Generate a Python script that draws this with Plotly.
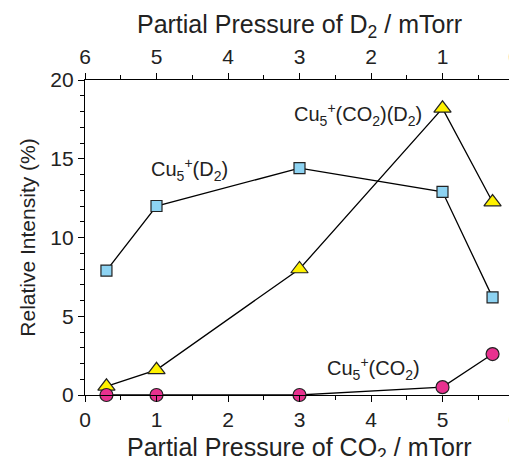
import plotly.graph_objects as go

co2_pressure = [0.3, 1, 3, 5, 5.7]
d2_pressure = [5.7, 5, 3, 1, 0.3]
cu5_d2 = [7.9, 12.0, 14.4, 12.9, 6.2]
cu5_co2_d2 = [0.55, 1.6, 8.0, 18.2, 12.25]
cu5_co2 = [0.0, 0.0, 0.0, 0.5, 2.6]

FONT = "Arial, Liberation Sans, sans-serif"
TXT = "#222"

fig = go.Figure()

fig.add_trace(go.Scatter(
    x=co2_pressure, y=cu5_d2, mode="lines+markers",
    line=dict(color="black", width=1.3),
    marker=dict(symbol="square", size=11, color="#8DD3F2", line=dict(color="#222", width=1.2)),
    cliponaxis=False, showlegend=False))
fig.add_trace(go.Scatter(
    x=co2_pressure, y=cu5_co2_d2, mode="lines+markers",
    line=dict(color="black", width=1.3),
    marker=dict(symbol="triangle-up", size=15, color="#FFF200", line=dict(color="#222", width=1.2)),
    cliponaxis=False, showlegend=False))
fig.add_trace(go.Scatter(
    x=co2_pressure, y=cu5_co2, mode="lines+markers",
    line=dict(color="black", width=1.3),
    marker=dict(symbol="circle", size=13, color="#E8318F", line=dict(color="#222", width=1.2)),
    cliponaxis=False, showlegend=False))
# invisible trace to anchor the top (D2) axis
fig.add_trace(go.Scatter(
    x=d2_pressure, y=cu5_d2, xaxis="x2", mode="markers",
    marker=dict(opacity=0), hoverinfo="skip", showlegend=False))

axis_common = dict(
    showgrid=False, zeroline=False, showline=True, linecolor="black", linewidth=1.3,
    ticks="outside", tickcolor="black", tickwidth=1.3, ticklen=6, automargin=False,
    tickfont=dict(family=FONT, size=21, color=TXT),
)
minor_x = dict(dtick=0.5, ticks="outside", ticklen=4, tickcolor="black", tickwidth=1.3)

fig.update_layout(
    width=509, height=449,
    margin=dict(l=77, r=3, t=72, b=62),
    plot_bgcolor="white", paper_bgcolor="white",
    xaxis=dict(range=[0, 6], dtick=1, tick0=0, minor=minor_x, ticklabeloverflow="allow",
               **axis_common),
    xaxis2=dict(range=[6, 0], dtick=1, tick0=0, overlaying="x", side="top", anchor="y",
                minor=minor_x, ticklabeloverflow="allow",
                title=dict(text="Partial Pressure of D<sub>2</sub> / mTorr",
                           font=dict(family=FONT, size=25, color=TXT), standoff=4),
                **axis_common),
    yaxis=dict(range=[0, 20], dtick=5, tick0=0, mirror=True,
               minor=dict(dtick=1, ticks="outside", ticklen=4, tickcolor="black", tickwidth=1.3),
               title=dict(text="Relative Intensity (%)",
                          font=dict(family=FONT, size=21, color=TXT), standoff=8),
               **axis_common),
    font=dict(family=FONT, color=TXT),
    annotations=[
        dict(x=0.5, y=0, xref="paper", yref="paper", yanchor="middle", yshift=-54,
             showarrow=False, text="Partial Pressure of CO<sub>2</sub> / mTorr",
             font=dict(family=FONT, size=25, color=TXT)),
        dict(x=1.46, y=14.3, xref="x", yref="y", showarrow=False,
             text="Cu<sub>5</sub><sup>+</sup>(D<sub>2</sub>)", font=dict(family=FONT, size=20, color=TXT)),
        dict(x=3.82, y=17.8, xref="x", yref="y", showarrow=False,
             text="Cu<sub>5</sub><sup>+</sup>(CO<sub>2</sub>)(D<sub>2</sub>)", font=dict(family=FONT, size=20, color=TXT)),
        dict(x=4.04, y=1.7, xref="x", yref="y", showarrow=False,
             text="Cu<sub>5</sub><sup>+</sup>(CO<sub>2</sub>)", font=dict(family=FONT, size=20, color=TXT)),
    ],
)

fig.write_html("out.html")
